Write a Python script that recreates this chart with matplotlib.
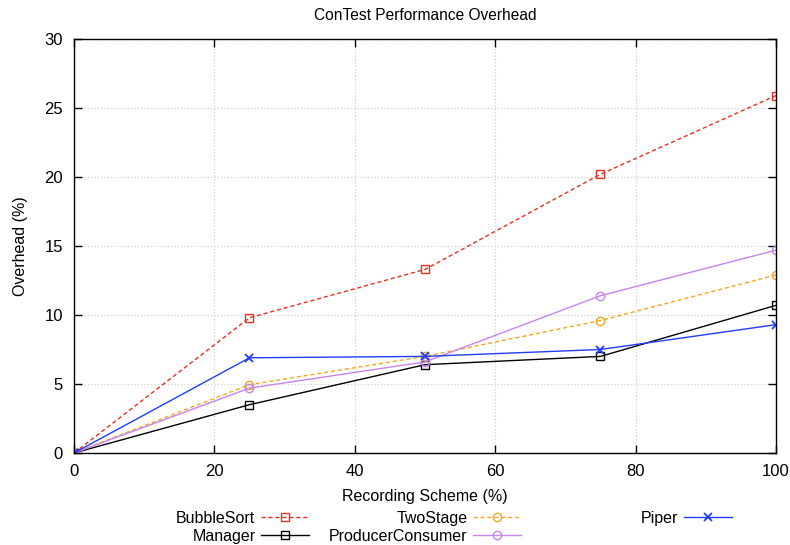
import matplotlib.pyplot as plt
from matplotlib.ticker import MultipleLocator

plt.rcParams["font.family"] = ["Liberation Sans", "DejaVu Sans"]

scheme = [0, 25, 50, 75, 100]
bubble_sort = [0, 9.8, 13.3, 20.2, 25.9]
manager = [0, 3.5, 6.4, 7.0, 10.7]
two_stage = [0, 4.95, 7.0, 9.6, 12.9]
producer_consumer = [0, 4.7, 6.6, 11.4, 14.7]
piper = [0, 6.9, 7.0, 7.5, 9.3]

fig = plt.figure(figsize=(7.9, 5.45), dpi=100)
ax = fig.add_axes([74 / 790, 92 / 545, 702 / 790, 414 / 545])

common = dict(linewidth=1.0, markersize=6, markerfacecolor="none", markeredgewidth=1.0)
l_bs, = ax.plot(scheme, bubble_sort, color="#e8301f", linestyle=(0, (3, 2)), marker="s",
                label="BubbleSort", **common)
l_mg, = ax.plot(scheme, manager, color="black", marker="s", label="Manager", **common)
l_ts, = ax.plot(scheme, two_stage, color="#f0a820", linestyle=(0, (3, 2)), marker="o",
                label="TwoStage", **common)
l_pc, = ax.plot(scheme, producer_consumer, color="#c784ee", marker="o",
                label="ProducerConsumer", **common)
l_pi, = ax.plot(scheme, piper, color="#1f3cff", marker="x", label="Piper",
                linewidth=1.0, markersize=6, markeredgewidth=1.3)

ax.set_xlim(0, 100)
ax.set_ylim(0, 30)
ax.xaxis.set_major_locator(MultipleLocator(20))
ax.yaxis.set_major_locator(MultipleLocator(5))
ax.tick_params(direction="in", top=True, right=True, length=6, width=1, labelsize=12)
ax.tick_params(axis="y", pad=8)
ax.tick_params(axis="x", pad=8)
ax.grid(True, color="#c8c8c8", linestyle=(0, (1, 2)), linewidth=0.8)
for s in ax.spines.values():
    s.set_linewidth(1.0)

ax.set_title("ConTest Performance Overhead", fontsize=11.2, pad=14)
ax.set_xlabel("Recording Scheme (%)", fontsize=11.5, labelpad=7)
ax.set_ylabel("Overhead (%)", fontsize=11.5, labelpad=12)

leg_kw = dict(loc="upper right", markerfirst=False, frameon=False, borderpad=0,
              borderaxespad=0, handlelength=3.0, handletextpad=0.35,
              labelspacing=0.18, fontsize=11.5)
y_top = 1 - 511 / 545
fig.legend(handles=[l_bs, l_mg], bbox_to_anchor=(309 / 790, y_top), **leg_kw)
fig.legend(handles=[l_ts, l_pc], bbox_to_anchor=(521 / 790, y_top), **leg_kw)
fig.legend(handles=[l_pi], bbox_to_anchor=(732 / 790, y_top), **leg_kw)

fig.savefig("out.png", dpi=100)
